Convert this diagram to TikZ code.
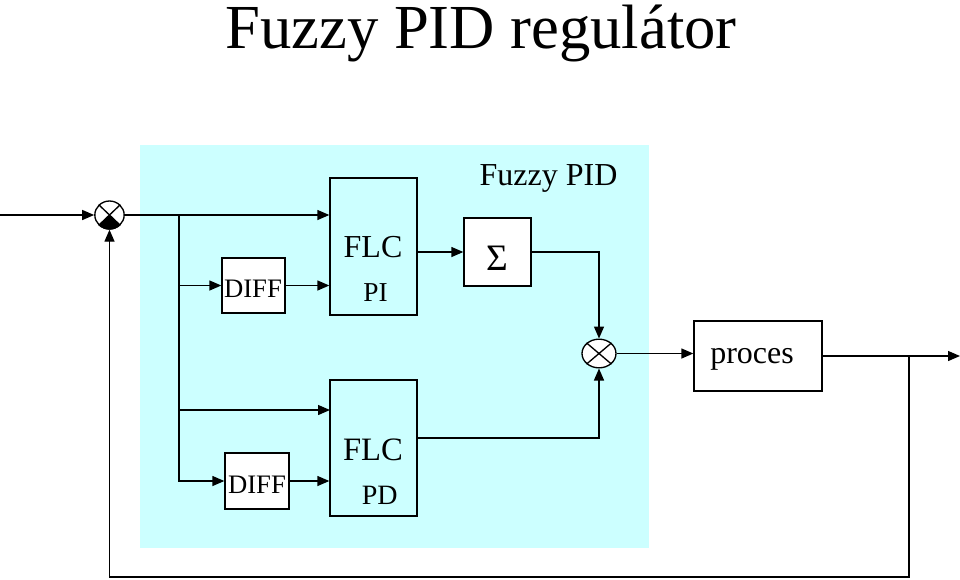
\documentclass[tikz,border=0pt]{standalone}
\usepackage{fontspec}
\setmainfont{Liberation Serif}
\usetikzlibrary{arrows.meta,shapes.geometric}
\definecolor{fuzzybg}{RGB}{204,255,255}
\begin{document}
\begin{tikzpicture}[x=0.75pt,y=-0.75pt,line width=1pt,
    blok/.style={draw,inner sep=0pt},
    wblok/.style={blok,fill=white},
    sumc/.style={draw,fill=white,ellipse,inner sep=0pt},
    txt/.style={anchor=base,inner sep=0pt,font=\fontsize{#1}{#1}\selectfont},
    arr/.style={-{Triangle[length=9pt,width=7.5pt]}}]
  \useasboundingbox (0,0) rectangle (960,579);
  \fill[fuzzybg] (140,145) rectangle (649,548);
  \draw
    (109.5,215) node[sumc,minimum width=22pt,minimum height=21pt] (sum1){}
    (253.5,285.5) node[wblok,minimum width=47.25pt,minimum height=41.25pt] (diff1){}
    (257,481) node[wblok,minimum width=48pt,minimum height=42pt] (diff2){}
    (373.5,246.5) node[blok,minimum width=65.25pt,minimum height=102.75pt] (flcpi){}
    (373.5,448) node[blok,minimum width=65.25pt,minimum height=102pt] (flcpd){}
    (497.5,252) node[wblok,minimum width=50.25pt,minimum height=51pt] (sigma){}
    (599,353.5) node[sumc,minimum width=25.5pt,minimum height=21.5pt] (sum2){}
    (758,356) node[wblok,minimum width=96pt,minimum height=52.5pt] (proces){};
  \fill (sum1.center) -- (sum1.south west)
    arc[start angle=225,end angle=315,x radius=11.5pt,y radius=11pt] -- cycle;
  \draw (sum1.north west) -- (sum1.south east) (sum1.north east) -- (sum1.south west);
  \draw (sum2.north west) -- (sum2.south east) (sum2.north east) -- (sum2.south west);
  \node[txt=47] (title) at (481,48) {Fuzzy PID regulátor};
  \node[txt=24] (fpid) at (548.5,185) {Fuzzy PID};
  \node[txt=20] (diff1t) at (253,297.7) {DIFF};
  \node[txt=20] (diff2t) at (257,493.3) {DIFF};
  \node[txt=24] (flcpit) at (373,257.7) {FLC};
  \node[txt=20.5] (pit) at (375.5,301) {PI};
  \node[txt=24.5] (flcpdt) at (373,460) {FLC};
  \node[txt=21] (pdt) at (379.7,504.3) {PD};
  \node[txt=28] (sigmat) at (497,270.7) {Σ};
  \node[txt=24] (procest) at (752,363.3) {proces};
  \coordinate (in) at (0,215);
  \coordinate (br1) at (179,215);
  \coordinate (pdu) at (330,410);
  \coordinate (pdo) at ([yshift=7.5pt]flcpd.east);
  \coordinate (out) at (960,356);
  \coordinate (fb) at (909,577);
  \begin{scope}[arr]
    \draw (in) -- (sum1);
    \draw (sum1) -- (sum1 -| flcpi.west);
    \draw (br1) |- (diff2);
    \draw (br1 |- diff1) -- (diff1);
    \draw (diff1) -- (diff1 -| flcpi.west);
    \draw (br1 |- pdu) -- (pdu);
    \draw (diff2) -- (diff2 -| flcpd.west);
    \draw (flcpi.east |- sigma) -- (sigma);
    \draw (sigma) -| (sum2);
    \draw (pdo) -| (sum2);
    \draw (sum2) -- (sum2 -| proces.west);
    \draw (proces) -- (out);
    \draw (fb |- proces) -- (fb) -| (sum1);
  \end{scope}
\end{tikzpicture}
\end{document}
